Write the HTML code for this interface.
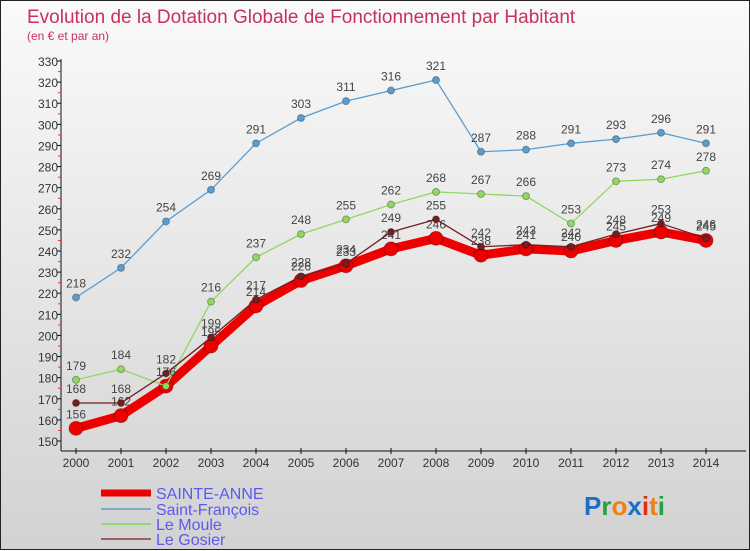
<!DOCTYPE html>
<html><head><meta charset="utf-8">
<style>
html,body{margin:0;padding:0;}
body{width:750px;height:550px;overflow:hidden;font-family:"Liberation Sans",sans-serif;}
#wrap{position:relative;width:748px;height:548px;border:1px solid #222;background:linear-gradient(#fafafa,#d2d2d2);}
svg{position:absolute;left:0;top:0;}
</style></head>
<body>
<div id="wrap">
<svg id="chart" width="750" height="550">
<text x="26" y="22" font-size="19" fill="#c8325a">Evolution de la Dotation Globale de Fonctionnement par Habitant</text>
<text x="26" y="39" font-size="12" fill="#c8325a">(en € et par an)</text>
<g id="axes"></g>
<g id="series"></g>
<g id="legend"></g>
<text x="583" y="514" font-size="26" font-weight="bold" fill="#1a7ad0"><tspan fill="#1a70c8">P</tspan><tspan fill="#2aa040">r</tspan><tspan fill="#f08010">o</tspan><tspan fill="#1a70c8">x</tspan><tspan fill="#e03010">i</tspan><tspan fill="#f08010">t</tspan><tspan fill="#2aa040">i</tspan></text>
</svg>
</div>
<script>
const years = [2000,2001,2002,2003,2004,2005,2006,2007,2008,2009,2010,2011,2012,2013,2014];
const yTicks = [150,160,170,180,190,200,210,220,230,240,250,260,270,280,290,300,310,320,330];
const sainteAnne = [156,162,176,195,214,226,233,241,246,238,241,240,245,249,245];
const saintFrancois = [218,232,254,269,291,303,311,316,321,287,288,291,293,296,291];
const leMoule = [179,184,176,216,237,248,255,262,268,267,266,253,273,274,278];
const leGosier = [168,168,182,199,217,228,234,249,255,242,243,242,248,253,246];

const NS='http://www.w3.org/2000/svg';
function X(i){return 75+i*45;}
function Y(v){return 440-(v-150)*(380/180);}
function mk(tag,attrs,parent){const e=document.createElementNS(NS,tag);for(const k in attrs)e.setAttribute(k,attrs[k]);parent.appendChild(e);return e;}
const axes=document.getElementById('axes');
// y axis
let l=mk('line',{x1:60,y1:58,x2:60,y2:450,stroke:'#111','stroke-width':1},axes);


yTicks.forEach(v=>{
  const y=Y(v);
  const t=mk('line',{x1:56,y1:y,x2:60,y2:y,stroke:'#111'},axes);
  
  
  if(v<330){const m=mk('line',{x1:57,y1:y-10.5,x2:60,y2:y-10.5,stroke:'#e33'},axes);
  
  }
  const tx=mk('text',{x:57,y:y+5,'font-size':12,fill:'#333','text-anchor':'end'},axes);
  tx.textContent=v;
  
  
});
l=mk('line',{x1:60,y1:450,x2:745,y2:450,stroke:'#111'},axes);


years.forEach((yr,i)=>{
  const t=mk('line',{x1:X(i),y1:447,x2:X(i),y2:453,stroke:'#111'},axes);
  
  
  const tx=mk('text',{x:X(i),y:466,'font-size':12,fill:'#333','text-anchor':'middle'},axes);
  tx.textContent=yr;
  
  
});
const ser=document.getElementById('series');
function draw(vals,color,w,r,name,labels){
  const g=mk('g',{},ser);
  
  
  const pts=vals.map((v,i)=>X(i)+','+Y(v)).join(' ');
  const p=mk('polyline',{points:pts,fill:'none',stroke:color,'stroke-width':w,'stroke-linejoin':'round'},g);
  
  
  vals.forEach((v,i)=>{
    const c=mk('circle',{cx:X(i),cy:Y(v),r:r,fill:color,stroke:'rgba(0,0,0,0.3)','stroke-width':1},g);
    
    
    if(labels){const t=mk('text',{x:X(i),y:Y(v)-10,'font-size':12,fill:'#444','text-anchor':'middle'},g);
    t.textContent=v;
    
    }
  });
}
draw(sainteAnne,'#ee0000',9,7,'sainte-anne',true);
draw(saintFrancois,'#5a9ed0',1.3,3.5,'saint-francois',true);
draw(leMoule,'#90d860',1.3,3.5,'le-moule',true);
draw(leGosier,'#702020',1.3,3.5,'le-gosier',true);
const lg=document.getElementById('legend');
const leg=[['SAINTE-ANNE','#ee0000',7,492],['Saint-François','#7aaed0',2,508],['Le Moule','#90d870',2,523],['Le Gosier','#9a6060',2,538]];
leg.forEach(e=>{
  const g=mk('g',{},lg);
  
  
  mk('line',{x1:100,y1:e[3],x2:150,y2:e[3],stroke:e[1],'stroke-width':e[2]},g);
  const t=mk('text',{x:155,y:e[3]+6,'font-size':16,fill:'#5a5af0'},g);
  t.textContent=e[0];
});
</script>
</body></html>
